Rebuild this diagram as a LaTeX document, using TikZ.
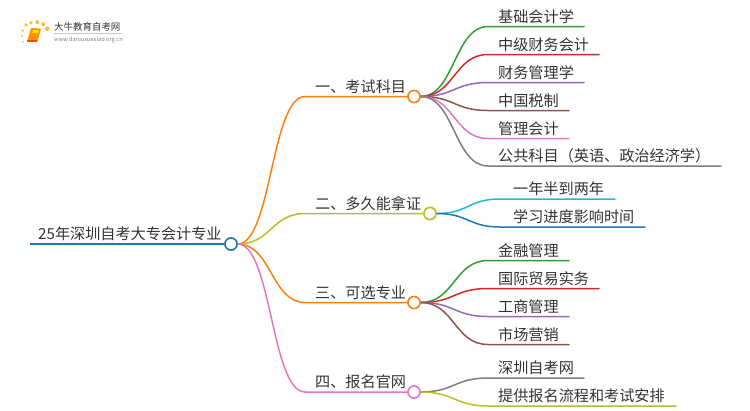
\documentclass[tikz,border=0pt]{standalone}
\usepackage{fontspec}
\setmainfont{Noto Sans CJK SC}[Scale=1]
\usetikzlibrary{calc}
\definecolor{cblue}{HTML}{1F77B4}
\definecolor{corange}{HTML}{FF7F0E}
\definecolor{colive}{HTML}{BCBD22}
\definecolor{cpink}{HTML}{E377C2}
\definecolor{cgreen}{HTML}{2CA02C}
\definecolor{cred}{HTML}{D62728}
\definecolor{cpurple}{HTML}{9467BD}
\definecolor{cbrown}{HTML}{8C564B}
\definecolor{cgray}{HTML}{7F7F7F}
\definecolor{ccyan}{HTML}{17BECF}
\definecolor{ctext}{HTML}{333333}
\tikzset{
  lbl/.style={anchor=base west,inner sep=0pt,text=ctext,font=\fontsize{15.2}{18}\selectfont},
  dotc/.style={circle,draw=#1,fill=white,line width=1.5pt,minimum size=12bp,inner sep=0pt},
  wire/.style={draw=#1,line width=1.5pt,line cap=round},
  rootwire/.style={draw=#1,line width=2.2pt},
}
% \conn{from}{bend}{end}{colour}
\newcommand{\conn}[4]{\draw[wire=#4] let \p1=(#1),\p2=(#2) in (\p1) .. controls ({(\x1+\x2)/2},\y1) and ({(\x1+\x2)/2},\y2) .. (\p2) -- (#3);}
\begin{document}
\begin{tikzpicture}[x=1bp,y=-1bp]
\useasboundingbox (0,0) rectangle (750,410);
% logo
\foreach \n/\x/\y/\r in {a/26/25/1.9,b/31/22.7/1.9,c/37.3/22/2,d/43.3/24.3/2,e/47.3/28.7/2.3,f/22.7/30.7/1.3,g/22/36/1.2,h/23.3/41.7/1}
  \fill[orange!70!yellow,opacity=.75] (\x,\y) circle (\r);
\fill[orange!85!yellow,rounded corners=.8] (31,28) -- (41,28.5) -- (37.5,41.5) -- (27,41.5) -- cycle;
\fill[yellow!85!orange] (33,30) -- (39,30.3) -- (38,33) -- (32.3,33) -- cycle;
\fill[orange!60!red] (27,40.2) -- (37.5,40.2) -- (37.3,41.8) -- (27.2,41.8) -- cycle;
\node[anchor=base west,inner sep=0pt,text=ctext,font=\fontsize{9.5}{11}\selectfont] (logot) at (54,30.5) {大牛教育自考网};
\draw[gray!45,line width=.6pt] (54,33.5) -- (121,33.5);
\node[anchor=base west,inner sep=0pt,text=gray,font=\fontsize{5.7}{7}\selectfont] (logou) at (54,41) {www.daniuxuexiao.org.cn};
% points
\coordinate (rs) at (30,244);
\node[dotc=cblue] (root) at (231,244) {};
\node[dotc=corange] (n1) at (414,96.5) {};
\node[dotc=colive] (n2) at (430,213.5) {};
\node[dotc=corange] (n3) at (414,302.5) {};
\node[dotc=cpink] (n4) at (414,392) {};
\coordinate (b1) at (305,96.5);
\coordinate (b2) at (305,213.5);
\coordinate (b3) at (305,302.5);
\coordinate (b4) at (305,392);
% root + branches
\draw[rootwire=cblue] (rs) -- (root.west);
\conn{root.east}{b1}{n1.west}{corange}
\conn{root.east}{b2}{n2.west}{colive}
\conn{root.east}{b3}{n3.west}{corange}
\conn{root.east}{b4}{n4.west}{cpink}
% leaves branch 1
\foreach \i/\y/\e/\c in {1/26.5/584/cgreen,2/54.5/599/cred,3/82.5/584/cpurple,4/110.5/569/cbrown,5/138.5/569/cpink,6/166/721/cgray}{
  \coordinate (la\i) at (488,\y);
  \coordinate (ea\i) at (\e,\y);
  \conn{n1.east}{la\i}{ea\i}{\c}
}
% branch 2
\foreach \i/\y/\e/\c in {1/199/615/ccyan,2/227/645/cblue}{
  \coordinate (lb\i) at (500,\y);
  \coordinate (eb\i) at (\e,\y);
  \conn{n2.east}{lb\i}{eb\i}{\c}
}
% branch 3
\foreach \i/\y/\e/\c in {1/260.5/569/cgreen,2/288.5/599/cred,3/316.5/569/cpurple,4/344.5/569/cbrown}{
  \coordinate (lc\i) at (488,\y);
  \coordinate (ec\i) at (\e,\y);
  \conn{n3.east}{lc\i}{ec\i}{\c}
}
% branch 4
\foreach \i/\y/\e/\c in {1/378/584/cgray,2/406/676/colive}{
  \coordinate (ld\i) at (488,\y);
  \coordinate (ed\i) at (\e,\y);
  \conn{n4.east}{ld\i}{ed\i}{\c}
}
% redraw circles on top
\foreach \n/\c in {root/cblue,n1/corange,n2/colive,n3/corange,n4/cpink}
  \draw[\c,fill=white,line width=1.5pt] (\n) circle (6);
% labels
\node[lbl] (t0) at (38,239) {25年深圳自考大专会计专业};
\node[lbl] (t1) at (315,92) {一、考试科目};
\node[lbl] (t2) at (315,209) {二、多久能拿证};
\node[lbl] (t3) at (315,298) {三、可选专业};
\node[lbl] (t4) at (315,387.5) {四、报名官网};
\node[lbl] (a1) at (498,22) {基础会计学};
\node[lbl] (a2) at (498,50) {中级财务会计};
\node[lbl] (a3) at (498,78) {财务管理学};
\node[lbl] (a4) at (498,106) {中国税制};
\node[lbl] (a5) at (498,134) {管理会计};
\node[lbl] (a6) at (498,161.5) {公共科目（英语、政治经济学）};
\node[lbl] (b1t) at (513,194.5) {一年半到两年};
\node[lbl] (b2t) at (513,222.5) {学习进度影响时间};
\node[lbl] (c1) at (498,256) {金融管理};
\node[lbl] (c2) at (498,284) {国际贸易实务};
\node[lbl] (c3) at (498,312) {工商管理};
\node[lbl] (c4) at (498,340) {市场营销};
\node[lbl] (d1) at (498,373.5) {深圳自考网};
\node[lbl] (d2) at (498,401.5) {提供报名流程和考试安排};
\end{tikzpicture}
\end{document}
